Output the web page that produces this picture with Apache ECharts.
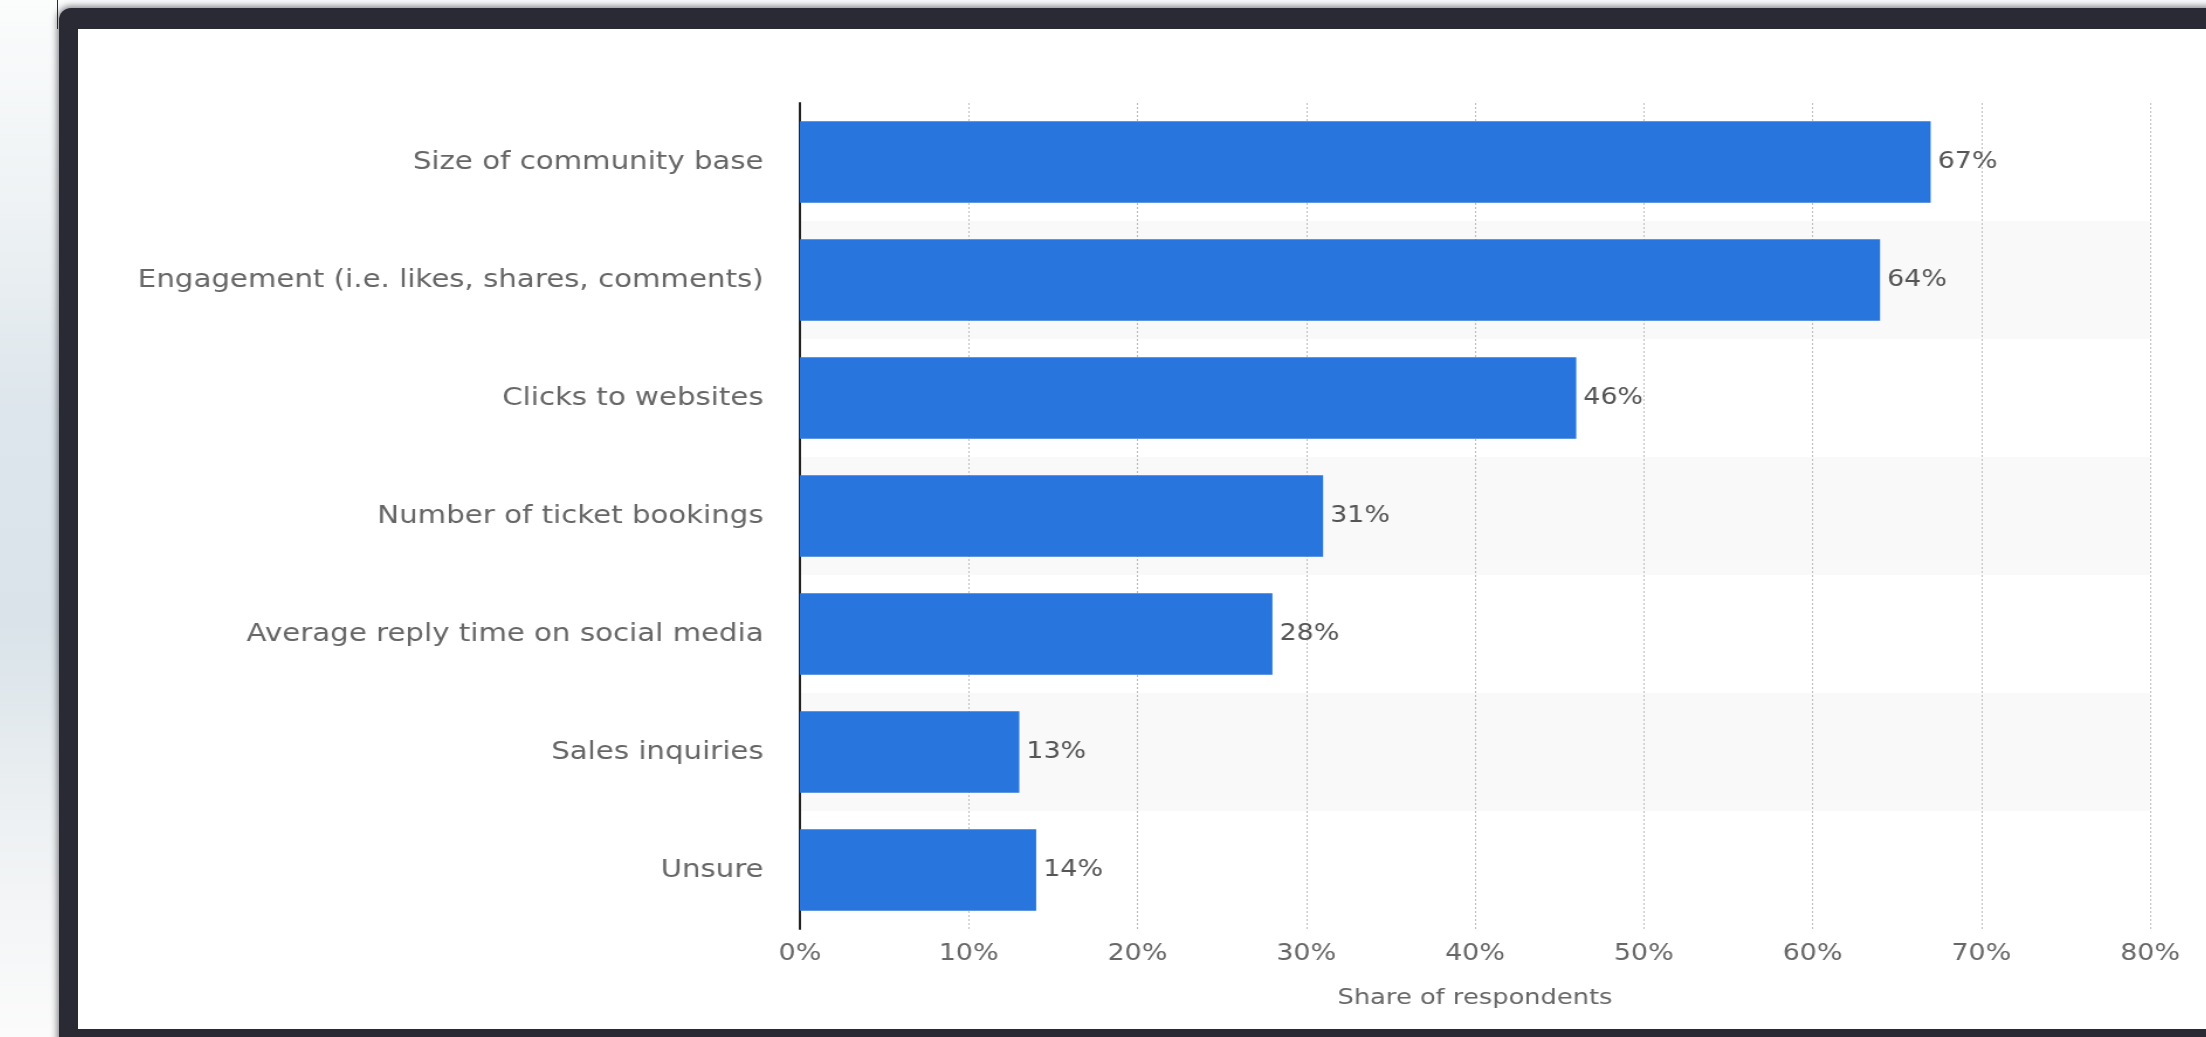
<!DOCTYPE html>
<html>
<head>
<meta charset="utf-8">
<script src="https://cdn.jsdelivr.net/npm/echarts@6/dist/echarts.min.js"></script>
<style>
  html, body { margin: 0; padding: 0; }
  body {
    width: 2206px; height: 1037px; overflow: hidden; position: relative;
    background: linear-gradient(180deg, #fbfcfc 0%, #eef2f4 20%, #dde6ec 40%, #d9e3e9 60%, #eef1f3 80%, #fbfbfb 100%);
  }
  #frame {
    position: absolute; left: 59px; top: 8px; width: 2200px; height: 1100px;
    background: #2a2a35; border-radius: 12px 0 0 0;
    box-shadow: 0 0 6px 2px rgba(42,42,53,0.55);
  }
  #panel {
    position: absolute; left: 78px; top: 29px; width: 2128px; height: 1000px; background: #ffffff;
  }
  #tick {
    position: absolute; left: 57px; top: 0; width: 1px; height: 29px; background: #2a2a35;
  }
  #chart {
    position: absolute; left: 78px; top: 29px; width: 1819px; height: 1000px;
    transform: scaleX(1.17); transform-origin: 0 0;
  }
</style>
</head>
<body>
<div id="tick"></div>
<div id="frame"></div>
<div id="panel"></div>
<div id="chart"></div>
<script>
const categories = [
  'Size of community base',
  'Engagement (i.e. likes, shares, comments)',
  'Clicks to websites',
  'Number of ticket bookings',
  'Average reply time on social media',
  'Sales inquiries',
  'Unsure'
];
const values = [67, 64, 46, 31, 28, 13, 14];
const axisTitle = 'Share of respondents';
const xTicks = { min: 0, max: 80, interval: 10 };

const chart = echarts.init(document.getElementById('chart'), null, { renderer: 'canvas' });
const fontFamily = '"DejaVu Sans", Verdana, sans-serif';
chart.setOption({
  animation: false,
  backgroundColor: 'transparent',
  grid: { left: 617, top: 74, width: 1154, height: 826, containLabel: false },
  xAxis: {
    type: 'value',
    min: xTicks.min, max: xTicks.max, interval: xTicks.interval,
    name: axisTitle,
    nameLocation: 'middle',
    nameGap: 58,
    nameTextStyle: { color: '#666', fontSize: 22, fontFamily: fontFamily },
    axisLine: { show: false },
    axisTick: { show: false },
    axisLabel: { formatter: '{value}%', color: '#666', fontSize: 23, fontFamily: fontFamily, margin: 14 },
    splitLine: { show: true, lineStyle: { color: '#bdbdbd', width: 1, type: [2, 2] } }
  },
  yAxis: {
    type: 'category',
    inverse: true,
    data: categories,
    axisLine: { show: true, lineStyle: { color: '#222', width: 2 } },
    axisTick: { show: false },
    axisLabel: { interval: 0, color: '#666', fontSize: 25, fontFamily: fontFamily, margin: 31 },
    splitArea: { show: true, interval: 0, areaStyle: { color: ['rgba(255,255,255,0)', '#f9f9f9'] } }
  },
  series: [{
    type: 'bar',
    data: values,
    barCategoryGap: '31%',
    itemStyle: { color: '#2876dd' },
    label: {
      show: true, position: 'right', distance: 6,
      formatter: '{c}%', color: '#555', fontSize: 23, fontFamily: fontFamily
    }
  }]
});
</script>
</body>
</html>
